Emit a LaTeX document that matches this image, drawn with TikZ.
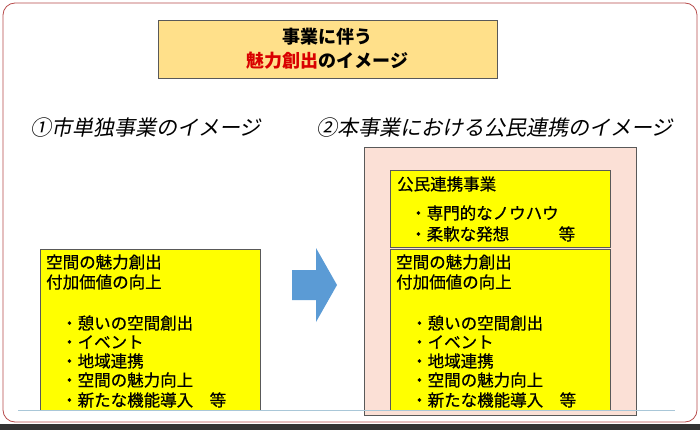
\documentclass[tikz,border=0pt]{standalone}
\usepackage{fontspec}
\setmainfont{Noto Sans CJK JP}
\newfontfamily\slantjp[FakeSlant=0.2]{Noto Sans CJK JP}
\newfontfamily\medjp[FakeBold=0.6]{Noto Sans CJK JP}
\definecolor{ybox}{HTML}{FFFF00}
\definecolor{tbox}{HTML}{FFE08A}
\definecolor{pinkbg}{HTML}{FBE0D6}
\definecolor{arrowblue}{HTML}{5B9BD5}
\definecolor{hline}{HTML}{A9C7D8}
\begin{document}
\begin{tikzpicture}[x=1pt,y=-1pt,
  ybx/.style={draw=gray!70!black,fill=ybox,line width=0.6pt},
  txt/.style={anchor=west,font=\medjp\fontsize{16.5}{18}\selectfont,inner sep=0pt},
  head/.style={anchor=west,font=\slantjp\fontsize{21}{23}\selectfont,inner sep=0pt}]
\useasboundingbox (0,0) rectangle (700,430);
\fill[white] (0,0) rectangle (700,430);
\fill[black!80] (0,424) rectangle (700,430);
\draw[red!60!black!70,line width=0.8pt,rounded corners=12pt] (3,3) rectangle (697,422);
% title
\node[draw=gray!70!black,fill=tbox,minimum width=339pt,minimum height=58pt,align=center,font=\bfseries\fontsize{18}{24}\selectfont] (title) at (327.5,49) {事業に伴う\\\textcolor{red!85!black}{魅力創出}のイメージ};
\node[head] (h1) at (30,128) {①市単独事業のイメージ};
\node[head] (h2) at (316,128) {②本事業における公民連携のイメージ};
% pink
\draw[gray!70!black,fill=pinkbg] (364,147) rectangle (636,415);
% boxes
\draw[ybx] (390,170) rectangle (610,247);
\draw[ybx] (390,249) rectangle (610,410);
\draw[ybx] (40,249) rectangle (260,410);
\node[txt] (p0) at (397,184) {公民連携事業};
\node[txt] (p1) at (410,213) {・専門的なノウハウ};
\node[txt] (p2) at (410,234) {・柔軟な発想　　　等};
\foreach \x/\n in {46/l,396/r}{
  \node[txt] (\n a) at (\x,262) {空間の魅力創出};
  \node[txt] (\n b) at (\x,282) {付加価値の向上};
  \node[txt] (\n c) at (\x+15,323) {・憩いの空間創出};
  \node[txt] (\n d) at (\x+15,342) {・イベント};
  \node[txt] (\n e) at (\x+15,361) {・地域連携};
  \node[txt] (\n f) at (\x+15,380) {・空間の魅力向上};
  \node[txt] (\n g) at (\x+15,400) {・新たな機能導入　等};
}
% arrow
\fill[arrowblue] (292,270) -- (316,270) -- (316,248) -- (337,285) -- (316,322) -- (316,300) -- (292,300) -- cycle;
\draw[hline,line width=1pt] (18,410) -- (675,410);
\end{tikzpicture}
\end{document}
